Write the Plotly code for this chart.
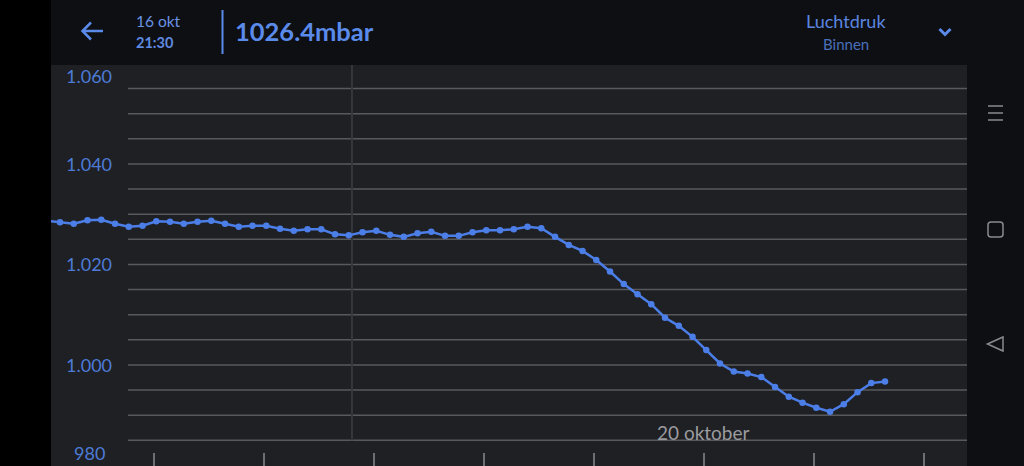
import plotly.graph_objects as go
import pandas as pd

W, H = 1024, 466

# ---------------- data ----------------
times = pd.date_range("2023-10-14 00:30", periods=62, freq="3h")
pressure = [
    1028.7, 1028.4, 1028.1, 1028.8, 1028.9, 1028.1, 1027.5, 1027.7, 1028.6, 1028.5,
    1028.1, 1028.5, 1028.7, 1028.1, 1027.5, 1027.7, 1027.7, 1027.1, 1026.7, 1027.0,
    1027.0, 1026.0, 1025.8, 1026.4, 1026.7, 1025.9, 1025.5, 1026.2, 1026.5, 1025.7,
    1025.7, 1026.4, 1026.8, 1026.8, 1027.0, 1027.5, 1027.2, 1025.5, 1023.9, 1022.7,
    1020.9, 1018.6, 1016.1, 1014.1, 1012.1, 1009.4, 1007.8, 1005.6, 1003.0, 1000.3,
    998.7, 998.3, 997.6, 995.6, 993.7, 992.5, 991.5, 990.7, 992.2, 994.6,
    996.4, 996.7,
]
y_tick_vals = [1060, 1040, 1020, 1000, 980]
y_tick_text = ["1.060", "1.040", "1.020", "1.000", "980"]
grid_vals = [985, 990, 995, 1000, 1005, 1010, 1015, 1020, 1025, 1030, 1035, 1040, 1045, 1050, 1055]
day_ticks = ["2023-10-15", "2023-10-16", "2023-10-17", "2023-10-18",
             "2023-10-19", "2023-10-20", "2023-10-21", "2023-10-22"]
day_label_date = "2023-10-20"
day_label_text = "20 oktober"
crosshair_time = "2023-10-16 19:12"
header_date = "16 okt"
header_time = "21:30"
header_value = "1026.4mbar"
header_title = "Luchtdruk"
header_sub = "Binnen"

x_range = ["2023-10-14 01:32", "2023-10-22 09:23"]
y_range = [979.9, 1059.7]

# ---------------- styles ----------------
BLUE = "#4c7ee8"
TEXT_BLUE = "#5b8bea"
LABEL_BLUE = "#4d7bd6"
CHART_BG = "#1f2024"
HEADER_BG = "#0e0f13"
GRID = "#58595d"
GRAY_ICON = "#8a8b8f"


def px(x):
    return x / W


def py(y):
    return 1 - y / H


plot_left, plot_right, plot_top = 51, 967, 65

fig = go.Figure()
fig.add_trace(go.Scatter(
    x=times, y=pressure, mode="lines+markers",
    line=dict(color=BLUE, width=2.5),
    marker=dict(color=BLUE, size=6.5),
    hoverinfo="skip", showlegend=False,
))

shapes = []
# left black strip
shapes.append(dict(type="rect", xref="paper", yref="paper", x0=0, x1=px(plot_left), y0=0, y1=1,
                   fillcolor="#000000", line=dict(width=0), layer="below"))
# horizontal grid lines (starting right of the value labels)
for g in grid_vals:
    shapes.append(dict(type="line", xref="paper", yref="y", x0=px(128), x1=px(plot_right), y0=g, y1=g,
                       line=dict(color=GRID, width=1.5), layer="below"))
# crosshair
shapes.append(dict(type="line", xref="x", yref="y", x0=crosshair_time, x1=crosshair_time,
                   y0=grid_vals[0], y1=y_range[1], line=dict(color="#36373b", width=2), layer="below"))
# header: back arrow
shapes.append(dict(type="line", xref="paper", yref="paper", x0=px(82.5), x1=px(103), y0=py(31), y1=py(31),
                   line=dict(color=TEXT_BLUE, width=2.5)))
shapes.append(dict(type="path", xref="paper", yref="paper",
                   path=f"M {px(91)} {py(22.5)} L {px(82.5)} {py(31)} L {px(91)} {py(39.5)}",
                   line=dict(color=TEXT_BLUE, width=2.5)))
# header separator
shapes.append(dict(type="line", xref="paper", yref="paper", x0=px(222.5), x1=px(222.5), y0=py(10), y1=py(54),
                   line=dict(color=TEXT_BLUE, width=2)))
# header chevron
shapes.append(dict(type="path", xref="paper", yref="paper",
                   path=f"M {px(939.5)} {py(29)} L {px(945)} {py(34.5)} L {px(950.5)} {py(29)}",
                   line=dict(color=TEXT_BLUE, width=3)))
# right nav icons
for yy in (106, 113, 120):
    shapes.append(dict(type="line", xref="paper", yref="paper", x0=px(988), x1=px(1003), y0=py(yy), y1=py(yy),
                       line=dict(color=GRAY_ICON, width=1.5)))
r = 3
sq = (988, 222, 1003, 237)
shapes.append(dict(type="path", xref="paper", yref="paper",
                   path=(f"M {px(sq[0]+r)} {py(sq[1])} L {px(sq[2]-r)} {py(sq[1])} "
                         f"Q {px(sq[2])} {py(sq[1])} {px(sq[2])} {py(sq[1]+r)} "
                         f"L {px(sq[2])} {py(sq[3]-r)} Q {px(sq[2])} {py(sq[3])} {px(sq[2]-r)} {py(sq[3])} "
                         f"L {px(sq[0]+r)} {py(sq[3])} Q {px(sq[0])} {py(sq[3])} {px(sq[0])} {py(sq[3]-r)} "
                         f"L {px(sq[0])} {py(sq[1]+r)} Q {px(sq[0])} {py(sq[1])} {px(sq[0]+r)} {py(sq[1])} Z"),
                   line=dict(color=GRAY_ICON, width=1.5)))
shapes.append(dict(type="path", xref="paper", yref="paper",
                   path=f"M {px(987.5)} {py(344)} L {px(1003)} {py(337)} L {px(1003)} {py(351)} Z",
                   line=dict(color=GRAY_ICON, width=1.5)))

annotations = []
# value labels (clamped inside the chart area)
for v, t in zip(y_tick_vals, y_tick_text):
    yv = min(max(v, y_range[0] + 2.5), y_range[1] - 2.2)
    annotations.append(dict(x=px(89), xref="paper", y=yv, yref="y", text=t, showarrow=False,
                            xanchor="center", yanchor="middle",
                            font=dict(family="Lato", size=18, color=LABEL_BLUE)))
# day label
annotations.append(dict(x=day_label_date, xref="x", y=py(432), yref="paper", text=day_label_text,
                        showarrow=False, xanchor="center", yanchor="middle",
                        font=dict(family="Lato", size=19, color="#9a9b9f")))
# header texts
annotations += [
    dict(x=px(134), y=py(21), xref="paper", yref="paper", text=header_date, showarrow=False,
         xanchor="left", yanchor="middle", font=dict(family="Lato", size=15.5, color="#6a93e4")),
    dict(x=px(134), y=py(43), xref="paper", yref="paper", text=f"<b>{header_time}</b>", showarrow=False,
         xanchor="left", yanchor="middle", font=dict(family="Lato", size=14.5, color="#5f8ae0")),
    dict(x=px(233), y=py(31), xref="paper", yref="paper", text=f"<b>{header_value}</b>", showarrow=False,
         xanchor="left", yanchor="middle", font=dict(family="Lato", size=25.5, color=TEXT_BLUE)),
    dict(x=px(845.5), y=py(21), xref="paper", yref="paper", text=header_title, showarrow=False,
         xanchor="center", yanchor="middle", font=dict(family="Lato", size=18, color="#5b86e0")),
    dict(x=px(845.5), y=py(44), xref="paper", yref="paper", text=header_sub, showarrow=False,
         xanchor="center", yanchor="middle", font=dict(family="Lato", size=15, color="#4a70bb")),
]

fig.update_layout(
    width=W, height=H,
    margin=dict(l=0, r=0, t=0, b=0),
    paper_bgcolor=HEADER_BG,
    plot_bgcolor=CHART_BG,
    shapes=shapes,
    annotations=annotations,
    showlegend=False,
    xaxis=dict(
        type="date", range=x_range, domain=[px(plot_left), px(plot_right)],
        showgrid=False, zeroline=False, showline=False,
        tickvals=day_ticks, ticks="inside", ticklen=13, tickwidth=1.5, tickcolor="#6e6f73",
        showticklabels=False, fixedrange=True,
    ),
    yaxis=dict(
        range=y_range, domain=[0, py(plot_top)],
        showgrid=False, zeroline=False, showline=False, showticklabels=False, fixedrange=True,
    ),
)

fig.write_html(
    "out.html",
    config={"displayModeBar": False},
    post_script="document.body.style.margin='0';document.body.style.overflow='hidden';",
)
